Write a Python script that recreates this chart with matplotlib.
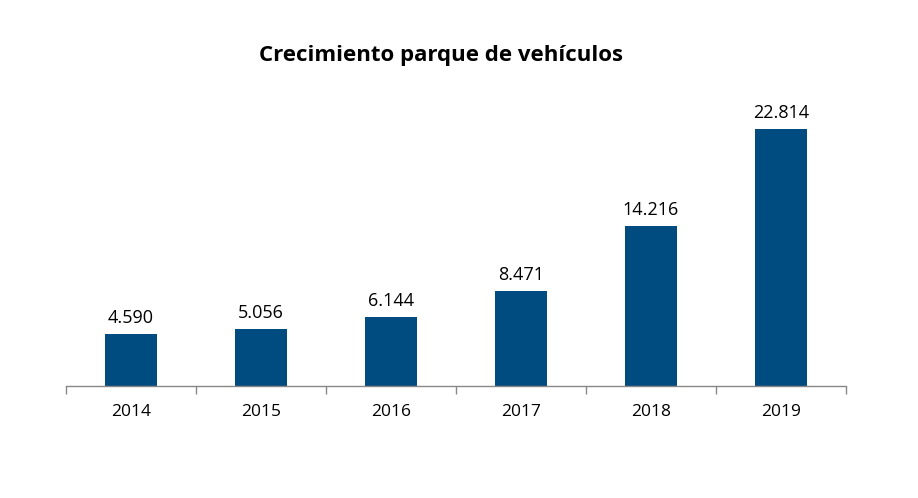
import matplotlib
matplotlib.use("Agg")
import matplotlib.pyplot as plt
import numpy as np

years = ["2014", "2015", "2016", "2017", "2018", "2019"]
values = [4590, 5056, 6144, 8471, 14216, 22814]
labels = ["4.590", "5.056", "6.144", "8.471", "14.216", "22.814"]

plt.rcParams['font.family'] = ['Open Sans', 'DejaVu Sans']

fig = plt.figure(figsize=(9.18, 4.98), dpi=100)
ax = fig.add_axes([66/918, (498-386)/498, 780/918, 286/498])

x = np.arange(len(years))
bars = ax.bar(x, values, width=0.4, color="#004b7f")
for xi, v, lab in zip(x, values, labels):
    ax.annotate(lab, (xi, v), xytext=(0, 5), textcoords="offset points",
                ha="center", va="bottom", fontsize=13, color="#000000")

ax.set_xlim(-0.5, len(years) - 0.5)
ax.set_ylim(0, 25400)
ax.set_yticks([])
ax.set_xticks(x)
ax.set_xticklabels(years, fontsize=12.5)
ax.set_xticks(np.arange(-0.5, len(years)), minor=True)
ax.tick_params(axis="x", which="major", length=0, pad=13)
ax.tick_params(axis="x", which="minor", length=6, color="#888888", width=1)
for s in ["top", "right", "left"]:
    ax.spines[s].set_visible(False)
ax.spines["bottom"].set_color("#888888")
ax.spines["bottom"].set_linewidth(1)

fig.text(441/918, 1 - 55/498, "Crecimiento parque de vehículos", ha="center", va="center",
         fontsize=16, fontweight="bold")

fig.savefig("out.png", dpi=100)
